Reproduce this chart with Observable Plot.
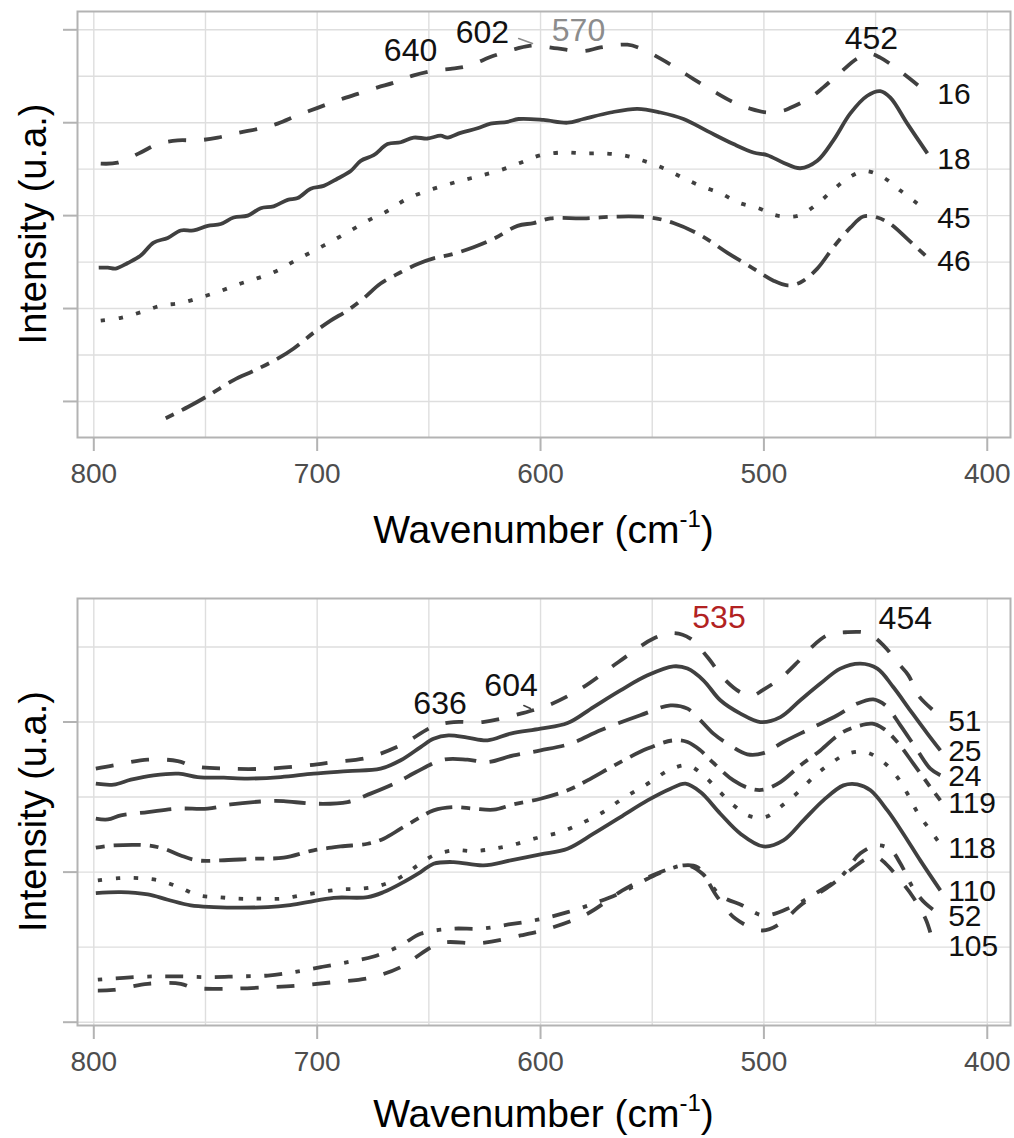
<!DOCTYPE html>
<html><head><meta charset="utf-8">
<script src="https://cdn.jsdelivr.net/npm/d3@7"></script>
<script src="https://cdn.jsdelivr.net/npm/@observablehq/plot@0.6"></script>
<style>html,body{margin:0;padding:0;background:#fff;} svg{display:block;}</style>
</head><body><div id="chart"></div>
<script>
// ---------- shared axis values ----------
const xTicks = [800, 700, 600, 500, 400];
const xGrid = [800, 750, 700, 650, 600, 550, 500, 450, 400];

// ---------- top panel: spectra [wavenumber cm-1, intensity a.u.] ----------
const s16 = [[796.9,2.56],[789.3,2.57],[779.0,2.68],[771.4,2.77],[762.4,2.81],[753.5,2.81],[744.5,2.84],[735.6,2.89],[725.3,2.94],[717.7,2.99],[708.7,3.08],[699.8,3.16],[690.8,3.24],[681.9,3.31],[672.9,3.38],[665.8,3.43],[656.8,3.51],[647.9,3.56],[640.3,3.58],[632.7,3.61],[621.0,3.72],[610.3,3.80],[603.1,3.83],[592.4,3.80],[580.8,3.77],[573.2,3.81],[561.1,3.84],[555.3,3.80],[546.3,3.69],[538.7,3.58],[531.5,3.47],[522.6,3.34],[513.6,3.22],[506.0,3.15],[498.4,3.11],[491.3,3.13],[488.1,3.16],[479.2,3.27],[473.4,3.38],[465.8,3.54],[458.2,3.69],[452.3,3.74],[447.9,3.70],[442.1,3.61],[434.5,3.47],[426.8,3.32]];
const s18 = [[797.8,1.44],[793.7,1.44],[790.2,1.43],[784.8,1.49],[779.0,1.57],[773.2,1.71],[766.9,1.76],[761.1,1.84],[755.3,1.84],[749.0,1.89],[743.2,1.91],[737.4,1.98],[731.1,2.00],[725.3,2.08],[719.5,2.10],[713.2,2.17],[708.7,2.19],[702.9,2.29],[697.1,2.32],[690.8,2.40],[685.0,2.48],[680.5,2.59],[674.7,2.65],[668.5,2.77],[662.6,2.79],[656.8,2.84],[650.6,2.83],[644.7,2.86],[641.6,2.84],[635.8,2.89],[628.2,2.94],[622.4,2.99],[614.8,3.01],[609.8,3.04],[598.7,3.03],[587.9,3.00],[580.8,3.04],[568.7,3.11],[556.6,3.15],[546.3,3.11],[536.0,3.04],[525.3,2.91],[513.6,2.77],[504.7,2.68],[498.4,2.65],[491.3,2.57],[483.7,2.51],[476.1,2.59],[468.9,2.81],[461.3,3.10],[453.7,3.29],[447.9,3.34],[443.4,3.27],[435.8,2.99],[426.8,2.67]];
const s45 = [[796.9,0.87],[787.9,0.90],[779.0,0.96],[770.0,1.03],[761.1,1.06],[752.1,1.12],[743.2,1.19],[734.2,1.27],[726.2,1.33],[717.7,1.41],[709.6,1.52],[701.6,1.62],[693.1,1.73],[685.0,1.84],[677.0,1.95],[668.5,2.05],[661.3,2.16],[652.8,2.25],[643.8,2.32],[634.9,2.38],[626.8,2.43],[617.9,2.49],[608.9,2.57],[600.0,2.65],[589.7,2.68],[580.8,2.67],[571.8,2.67],[562.9,2.65],[553.9,2.59],[545.0,2.51],[536.5,2.41],[528.4,2.32],[519.4,2.24],[511.4,2.14],[502.5,2.08],[494.0,2.00],[484.6,2.00],[477.0,2.11],[470.2,2.25],[462.6,2.40],[454.6,2.48],[446.5,2.41],[438.9,2.27],[431.3,2.13]];
const s46 = [[767.8,-0.18],[757.9,-0.06],[749.0,0.06],[737.4,0.23],[728.4,0.33],[717.7,0.46],[710.5,0.57],[701.6,0.74],[694.0,0.87],[686.4,0.98],[679.2,1.11],[671.6,1.27],[662.6,1.39],[655.0,1.48],[647.9,1.54],[640.3,1.58],[630.0,1.66],[621.0,1.75],[610.3,1.89],[603.1,1.92],[595.5,1.97],[580.8,1.97],[565.5,1.99],[550.8,1.98],[540.5,1.92],[528.4,1.79],[516.3,1.60],[504.7,1.43],[495.7,1.30],[489.5,1.25],[483.7,1.28],[476.1,1.43],[468.9,1.66],[461.3,1.87],[455.5,1.99],[449.2,1.98],[443.4,1.91],[435.8,1.75],[426.8,1.55]];

const topNames = ["16", "18", "45", "46"];
const topTypes = ["dashed", "solid", "dotted", "twodash"];
const topLabelY = [3.30, 2.61, 1.97, 1.505];
const topLabelX = 422.4;
const topPeaks = ["640", "602", "570", "452"];
const topPeakX = [658.2, 626.0, 583.0, 451.9];
const topPeakY = [3.774, 3.973, 3.99, 3.909];
const topPeakColor = ["#111111", "#111111", "#8c8c8c", "#111111"];
const topLeader = [[609.8, 3.906], [603.6, 3.852]];
const topYTicks = [0, 1, 2, 3, 4];
const topYGrid = [0, 0.5, 1, 1.5, 2, 2.5, 3, 3.5, 4];

// ---------- bottom panel ----------
const s51 = [[799.1,1.689],[791.1,1.711],[775.8,1.749],[762.4,1.740],[755.3,1.705],[740.0,1.689],[722.1,1.689],[704.3,1.711],[692.6,1.733],[677.4,1.763],[662.6,1.845],[647.9,1.971],[638.9,2.000],[625.9,2.000],[608.9,2.056],[595.5,2.118],[581.2,2.229],[565.1,2.400],[549.4,2.556],[540.5,2.593],[532.9,2.556],[525.3,2.433],[517.2,2.278],[509.6,2.191],[504.7,2.178],[500.7,2.211],[492.6,2.291],[485.0,2.398],[479.2,2.491],[471.6,2.578],[463.5,2.598],[453.7,2.591],[446.5,2.511],[440.3,2.398],[435.3,2.311],[430.9,2.178],[424.2,2.078]];
const s25 = [[799.1,1.589],[791.1,1.583],[783.4,1.616],[773.2,1.645],[762.0,1.656],[753.5,1.633],[741.8,1.629],[731.1,1.623],[716.3,1.633],[701.6,1.656],[686.4,1.673],[671.6,1.689],[662.6,1.745],[653.7,1.833],[647.9,1.889],[641.2,1.911],[632.7,1.896],[623.7,1.878],[613.4,1.923],[600.0,1.956],[587.9,1.993],[576.3,2.100],[564.2,2.211],[552.1,2.311],[540.5,2.371],[534.2,2.356],[527.1,2.278],[519.5,2.145],[510.5,2.056],[501.6,2.000],[492.6,2.033],[483.7,2.145],[474.7,2.256],[465.8,2.356],[456.8,2.389],[449.2,2.356],[442.1,2.233],[434.5,2.078],[426.8,1.923],[421.0,1.811]];
const s24 = [[799.1,1.356],[793.7,1.351],[787.9,1.378],[775.8,1.400],[762.4,1.423],[749.0,1.423],[738.7,1.451],[722.1,1.473],[715.0,1.473],[701.6,1.456],[686.4,1.467],[676.1,1.523],[664.0,1.600],[655.9,1.665],[643.4,1.749],[632.7,1.749],[623.7,1.733],[612.1,1.778],[600.0,1.811],[586.6,1.856],[573.2,1.945],[555.3,2.045],[541.8,2.111],[534.2,2.089],[528.4,2.011],[522.6,1.923],[516.3,1.856],[507.4,1.785],[500.2,1.793],[491.3,1.867],[479.2,1.956],[467.1,2.045],[458.2,2.123],[451.0,2.151],[445.6,2.111],[438.9,1.978],[431.3,1.811],[425.5,1.689],[421.0,1.645]];
const s119 = [[799.1,1.163],[791.1,1.178],[775.8,1.178],[768.7,1.156],[761.1,1.111],[753.5,1.078],[743.2,1.078],[728.4,1.089],[715.0,1.096],[701.6,1.145],[689.5,1.171],[677.4,1.189],[670.2,1.223],[662.6,1.289],[653.7,1.367],[647.9,1.411],[638.9,1.433],[630.0,1.423],[621.0,1.416],[612.1,1.451],[600.0,1.489],[587.9,1.545],[579.0,1.611],[565.5,1.723],[552.1,1.823],[540.5,1.878],[534.2,1.867],[528.4,1.811],[523.0,1.733],[513.6,1.611],[506.0,1.556],[500.2,1.549],[492.6,1.600],[483.7,1.711],[474.7,1.811],[465.8,1.923],[458.2,1.971],[451.5,1.989],[446.5,1.956],[440.3,1.867],[433.1,1.723],[425.5,1.567],[421.0,1.478]];
const s118 = [[798.2,0.945],[788.8,0.960],[779.9,0.960],[770.9,0.945],[762.0,0.900],[753.0,0.845],[744.1,0.833],[735.1,0.823],[726.2,0.823],[716.3,0.823],[707.4,0.845],[698.4,0.867],[689.5,0.885],[680.5,0.889],[671.6,0.911],[662.6,0.967],[655.0,1.045],[647.9,1.111],[638.9,1.145],[630.0,1.140],[621.0,1.156],[612.1,1.183],[601.3,1.229],[591.0,1.267],[582.1,1.323],[573.2,1.389],[565.5,1.467],[558.4,1.533],[550.8,1.600],[542.7,1.678],[534.2,1.711],[527.1,1.645],[520.4,1.545],[513.6,1.445],[506.0,1.371],[499.3,1.367],[491.7,1.445],[484.6,1.533],[477.0,1.645],[470.2,1.723],[462.6,1.789],[454.6,1.800],[446.5,1.733],[440.3,1.633],[435.3,1.511],[430.9,1.389],[425.5,1.278],[420.1,1.167]];
const s110 = [[799.1,0.860],[787.9,0.867],[775.8,0.851],[766.9,0.816],[756.6,0.778],[746.3,0.767],[734.2,0.763],[722.1,0.767],[713.2,0.778],[704.3,0.800],[692.6,0.829],[677.4,0.833],[670.2,0.867],[662.6,0.923],[653.7,1.000],[647.9,1.056],[638.9,1.067],[625.5,1.045],[613.4,1.078],[600.0,1.118],[587.9,1.156],[576.3,1.256],[564.2,1.367],[552.1,1.478],[541.8,1.556],[535.1,1.589],[528.4,1.533],[519.5,1.389],[510.5,1.256],[500.2,1.171],[491.3,1.211],[482.3,1.345],[473.4,1.478],[464.4,1.578],[458.2,1.585],[452.3,1.545],[444.7,1.411],[437.6,1.256],[430.0,1.078],[421.0,0.878]];
const s52 = [[798.2,0.283],[786.6,0.296],[773.2,0.305],[761.1,0.305],[747.7,0.300],[735.6,0.305],[722.1,0.311],[710.5,0.333],[698.4,0.367],[686.4,0.400],[674.7,0.438],[662.6,0.511],[653.7,0.589],[639.4,0.623],[626.8,0.623],[614.3,0.651],[601.3,0.683],[587.9,0.733],[574.5,0.800],[563.3,0.867],[552.1,0.956],[541.8,1.023],[534.2,1.045],[527.5,0.989],[519.5,0.845],[509.6,0.778],[500.2,0.711],[488.1,0.765],[476.1,0.865],[465.8,0.965],[456.8,1.125],[449.2,1.178],[443.4,1.151],[438.9,1.058],[433.1,0.891],[427.7,0.791],[422.4,0.731]];
const s105 = [[798.2,0.211],[791.1,0.216],[775.8,0.256],[761.1,0.256],[755.3,0.229],[740.0,0.223],[722.1,0.233],[707.4,0.245],[692.6,0.267],[676.1,0.296],[662.6,0.367],[656.8,0.423],[644.7,0.527],[626.8,0.527],[608.9,0.578],[596.4,0.623],[579.0,0.723],[563.3,0.878],[547.6,0.993],[536.0,1.045],[529.8,1.033],[520.8,0.833],[512.8,0.691],[500.7,0.611],[492.6,0.658],[483.7,0.778],[470.2,0.911],[462.6,0.998],[453.7,1.091],[449.2,1.098],[445.6,1.058],[438.9,0.945],[433.1,0.831],[427.7,0.691],[425.5,0.598]];

const botNames = ["51", "25", "24", "119", "118", "110", "52", "105"];
const botTypes = ["dashed", "solid", "longdash", "twodash", "dotted", "solid", "dotdash", "dashed"];
const botLabelY = [2.005, 1.805, 1.638, 1.461, 1.161, 0.871, 0.705, 0.505];
const botLabelX = 417.5;
const botPeaks = ["636", "604", "535", "454"];
const botPeakX = [645.0, 613.2, 520.1, 436.7];
const botPeakY = [2.121, 2.245, 2.695, 2.688];
const botPeakColor = ["#111111", "#111111", "#b22222", "#111111"];
const botLeader = [[607.5, 2.11], [604.5, 2.09]];
const botYTicks = [0, 1, 2];
const botYGrid = [0, 0.5, 1, 1.5, 2, 2.5];

// ---------- styling ----------
const FONT = "'Liberation Sans', Arial, Helvetica, sans-serif";
const LINE = "#404040";
const DASH = {solid: null, dashed: "18,18", dotted: "4.5,13.5", dotdash: "4.5,13.5,18,13.5", longdash: "31.5,13.5", twodash: "9,9,27,9"};
const W = 1014, ML = 77, MR = 4;

function panel(cfg) {
  const lines = cfg.series.map((data, i) => {
    const o = {x: d => d[0], y: d => d[1], stroke: LINE, strokeWidth: 3.8, curve: "catmull-rom", strokeLinecap: "butt"};
    const da = DASH[cfg.types[i]];
    if (da) o.strokeDasharray = da;
    return Plot.line(data, o);
  });
  const svg = Plot.plot({
    width: W, height: cfg.height,
    marginTop: cfg.marginTop, marginBottom: cfg.marginBottom, marginLeft: ML, marginRight: MR,
    x: {domain: [807.3, 389.6]},
    y: {domain: cfg.yDomain},
    color: {type: "identity"},
    style: {fontFamily: FONT, background: "#ffffff", overflow: "visible"},
    marks: [
      Plot.ruleX(xGrid, {stroke: "#dedede", strokeWidth: 1.4}),
      Plot.ruleY(cfg.yGrid, {stroke: "#dedede", strokeWidth: 1.4}),
      Plot.frame({stroke: "#b3b3b3", strokeWidth: 2}),
      Plot.axisX(xTicks, {tickSize: 14, tickPadding: 12, fontSize: 28, stroke: "#b3b3b3", strokeWidth: 2, fill: "#4d4d4d", label: null}),
      Plot.axisY(cfg.yTicks, {tickSize: 14, tickFormat: () => "", stroke: "#b3b3b3", strokeWidth: 2, label: null}),
      ...lines,
      Plot.line(cfg.leader, {x: d => d[0], y: d => d[1], stroke: cfg.leaderColor, strokeWidth: 1.5}),
      Plot.text(cfg.names, {x: () => cfg.labelX, y: (d, i) => cfg.labelY[i], text: d => d, textAnchor: "start", fontSize: 30, fill: "#111111"}),
      Plot.text(cfg.peaks, {x: (d, i) => cfg.peakX[i], y: (d, i) => cfg.peakY[i], text: d => d, fontSize: 32, fill: (d, i) => cfg.peakColor[i]})
    ]
  });
  const s = d3.select(svg);
  const frameBottom = cfg.height - cfg.marginBottom;
  const cx = (ML + (W - MR)) / 2;
  const t = s.append("text").attr("x", cx).attr("y", frameBottom + cfg.titleOffset)
    .attr("text-anchor", "middle").attr("font-size", 39).attr("fill", "#000");
  t.append("tspan").text("Wavenumber (cm");
  t.append("tspan").attr("dy", -16).attr("font-size", 24).text("-1");
  t.append("tspan").attr("dy", 16).text(")");
  s.append("text")
    .attr("transform", `translate(46,${(cfg.marginTop + frameBottom) / 2}) rotate(-90)`)
    .attr("text-anchor", "middle").attr("font-size", 38).attr("fill", "#000")
    .text("Intensity (u.a.)");
  return svg;
}

const root = document.getElementById("chart");
root.appendChild(panel({
  height: 560, marginTop: 11, marginBottom: 123, yDomain: [-0.388, 4.197],
  yTicks: topYTicks, yGrid: topYGrid,
  series: [s16, s18, s45, s46], types: topTypes,
  names: topNames, labelX: topLabelX, labelY: topLabelY,
  peaks: topPeaks, peakX: topPeakX, peakY: topPeakY, peakColor: topPeakColor,
  leader: topLeader, leaderColor: "#8c8c8c", titleOffset: 106
}));
root.appendChild(panel({
  height: 578, marginTop: 38, marginBottom: 113, yDomain: [-0.022, 2.823],
  yTicks: botYTicks, yGrid: botYGrid,
  series: [s51, s25, s24, s119, s118, s110, s52, s105], types: botTypes,
  names: botNames, labelX: botLabelX, labelY: botLabelY,
  peaks: botPeaks, peakX: botPeakX, peakY: botPeakY, peakColor: botPeakColor,
  leader: botLeader, leaderColor: "#404040", titleOffset: 102
}));
</script>
</body></html>
